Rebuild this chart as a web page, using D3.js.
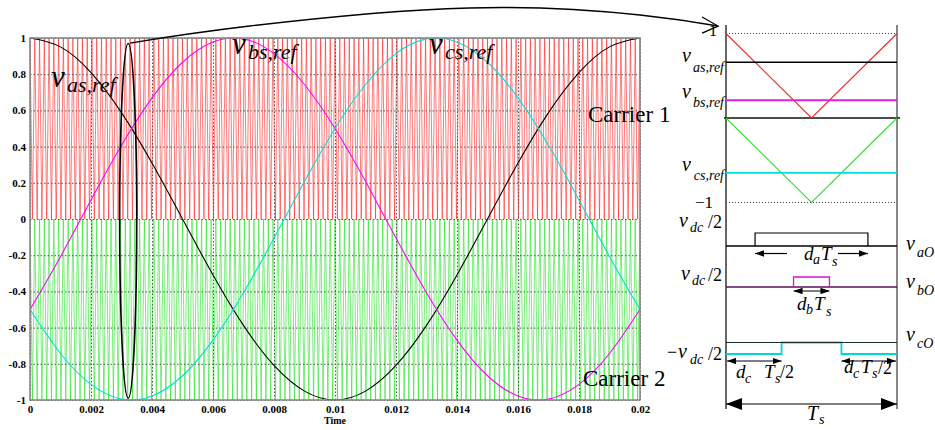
<!DOCTYPE html>
<html>
<head>
<meta charset="utf-8">
<script src="https://cdn.jsdelivr.net/npm/d3@7"></script>
<style>
  body { margin: 0; background: #fff; }
  text { font-family: "Liberation Serif", "Times New Roman", serif; }
</style>
</head>
<body>
<svg id="chart" width="935" height="430"></svg>
<script>
// ---- data ----------------------------------------------------------------
const timeTicks  = [0, 0.002, 0.004, 0.006, 0.008, 0.01, 0.012, 0.014, 0.016, 0.018, 0.02];
const valueTicks = [-1, -0.8, -0.6, -0.4, -0.2, 0, 0.2, 0.4, 0.6, 0.8, 1];

// reference voltages sampled every 1 ms over one 50 Hz cycle
const sampleTimes = [0, 0.001, 0.002, 0.003, 0.004, 0.005, 0.006, 0.007, 0.008, 0.009, 0.01,
                     0.011, 0.012, 0.013, 0.014, 0.015, 0.016, 0.017, 0.018, 0.019, 0.02];
const vasRef = [1, 0.951, 0.809, 0.588, 0.309, 0, -0.309, -0.588, -0.809, -0.951, -1,
                -0.951, -0.809, -0.588, -0.309, 0, 0.309, 0.588, 0.809, 0.951, 1];
const vbsRef = [-0.5, -0.208, 0.105, 0.407, 0.669, 0.866, 0.978, 0.995, 0.914, 0.743, 0.5,
                0.208, -0.105, -0.407, -0.669, -0.866, -0.978, -0.995, -0.914, -0.743, -0.5];
const vcsRef = [-0.5, -0.743, -0.914, -0.995, -0.978, -0.866, -0.669, -0.407, -0.105, 0.208, 0.5,
                0.743, 0.914, 0.995, 0.978, 0.866, 0.669, 0.407, 0.105, -0.208, -0.5];

// two level-shifted triangular carriers: [valley, peak]
const carrierCycles  = 128;
const carrier1Levels = [0, 1];
const carrier2Levels = [-1, 0];

// one switching period in detail: sampled references a, b, c
const periodRefs = [0.66, 0.21, -0.65];

// ---- left panel: carriers and references ----------------------------------
const svg = d3.select("#chart");
const x = d3.scaleLinear().domain([timeTicks[0], timeTicks[timeTicks.length - 1]]).range([30, 640]);
const y = d3.scaleLinear().domain([-1, 1]).range([400, 38]);

function carrierVertices(levels) {
  const half = (x.domain()[1] - x.domain()[0]) / carrierCycles / 2;
  return d3.range(2 * carrierCycles + 1).map(k => ({ t: k * half, v: levels[1 - (k % 2)] }));
}
const straight = d3.line().x(d => x(d.t)).y(d => y(d.v));

const plot = svg.append("g");
plot.append("path").datum(carrierVertices(carrier1Levels))
  .attr("d", straight).attr("fill", "none").attr("stroke", "#ff2020")
  .attr("stroke-width", 0.7).attr("stroke-opacity", 0.85);
plot.append("path").datum(carrierVertices(carrier2Levels))
  .attr("d", straight).attr("fill", "none").attr("stroke", "#20e020")
  .attr("stroke-width", 0.7).attr("stroke-opacity", 0.85);

// dotted grid
const gridX = svg.append("g").attr("transform", `translate(0,${y(-1)})`)
  .call(d3.axisBottom(x).tickValues(timeTicks).tickSize(-(y(-1) - y(1))).tickFormat(""));
const gridY = svg.append("g").attr("transform", `translate(${x(0)},0)`)
  .call(d3.axisLeft(y).tickValues(valueTicks).tickSize(-(x(0.02) - x(0))).tickFormat(""));
[gridX, gridY].forEach(g => {
  g.select(".domain").remove();
  g.selectAll("line").attr("stroke", "#555").attr("stroke-width", 1).attr("stroke-dasharray", "1.5,2");
});

// reference sinusoids
const smooth = d3.line().curve(d3.curveNatural).x(d => x(d[0])).y(d => y(d[1]));
[[vasRef, "#000"], [vbsRef, "#ff00ff"], [vcsRef, "#00dede"]].forEach(([vals, col]) => {
  svg.append("path").datum(d3.zip(sampleTimes, vals))
    .attr("d", smooth).attr("fill", "none").attr("stroke", col).attr("stroke-width", 1.1);
});

// frame
svg.append("rect").attr("x", x(0)).attr("y", y(1))
  .attr("width", x(0.02) - x(0)).attr("height", y(-1) - y(1))
  .attr("fill", "none").attr("stroke", "#8a8a8a").attr("stroke-width", 1.6);

// axes labels
const axY = svg.append("g").attr("transform", `translate(${x(0)},0)`)
  .call(d3.axisLeft(y).tickValues(valueTicks).tickSize(0).tickPadding(4).tickFormat(d => String(d)));
const axX = svg.append("g").attr("transform", `translate(0,${y(-1)})`)
  .call(d3.axisBottom(x).tickValues(timeTicks).tickSize(0).tickPadding(5).tickFormat(d => String(d)));
[axX, axY].forEach(g => {
  g.select(".domain").remove();
  g.selectAll("text").attr("font-family", "Liberation Serif").attr("font-weight", "bold")
    .attr("font-size", 11).attr("fill", "#000");
});
svg.append("text").attr("x", 335).attr("y", 424).attr("text-anchor", "middle")
  .attr("font-weight", "bold").attr("font-size", 10).text("Time");

// text helper: pieces placed individually
function put(px, py, str, size, opts = {}) {
  return svg.append("text").attr("x", px).attr("y", py)
    .attr("font-size", size)
    .attr("font-style", opts.roman ? "normal" : "italic")
    .attr("text-anchor", opts.anchor || "start")
    .attr("fill", "#000").text(str);
}

// reference labels
put(51, 87, "v", 31); put(67, 92, "as,ref", 22);
put(232, 54, "v", 31); put(248, 59, "bs,ref", 22);
put(429, 54, "v", 31); put(445, 59, "cs,ref", 22);
put(588, 122, "Carrier 1", 23, { roman: true });
put(583, 386, "Carrier 2", 23, { roman: true });

// sampling window around one switching period
svg.append("ellipse").attr("cx", x(0.00322)).attr("cy", y(-0.01))
  .attr("rx", x(0.00028) - x(0)).attr("ry", y(-0.98) - y(0))
  .attr("fill", "none").attr("stroke", "#000").attr("stroke-width", 1.6);

// call-out curve to the detail panel
const callout = [[0.00328, 0.972], [0.0072, 1.066], [0.0144, 1.166], [0.02, 1.127], [0.02256, 1.066]];
svg.append("path").datum(callout).attr("d", smooth)
  .attr("fill", "none").attr("stroke", "#000").attr("stroke-width", 1.4);
const tip = callout[callout.length - 1];
svg.append("path")
  .attr("d", d3.line()([[x(tip[0]) - 16, y(tip[1]) - 9], [x(tip[0]), y(tip[1])], [x(tip[0]) - 16, y(tip[1]) + 7]]))
  .attr("fill", "none").attr("stroke", "#000").attr("stroke-width", 1.3);

// ---- right panel: one switching period ------------------------------------
const px = d3.scaleLinear().domain([0, 1]).range([726, 897]);
const py = d3.scaleLinear().domain([-1, 1]).range([202.5, 33.5]);
const seg = d3.line();

function hline(yy, col, w, x0 = px(0), x1 = px(1), dash = null) {
  const l = svg.append("line").attr("x1", x0).attr("x2", x1).attr("y1", yy).attr("y2", yy)
    .attr("stroke", col).attr("stroke-width", w);
  if (dash) l.attr("stroke-dasharray", dash);
  return l;
}

// borders of the period
svg.append("line").attr("x1", px(0)).attr("x2", px(0)).attr("y1", 25).attr("y2", 409)
  .attr("stroke", "#000").attr("stroke-width", 1.2);
svg.append("line").attr("x1", px(1)).attr("x2", px(1)).attr("y1", 25).attr("y2", 409)
  .attr("stroke", "#555").attr("stroke-width", 1.4);

hline(py(1), "#444", 1, px(0), px(1), "1,2");
hline(py(-1), "#444", 1, px(0), px(1), "1,2");
hline(py(0), "#111", 1.6, px(0) - 2, px(1) + 3);

// carriers within the period
function periodCarrier(levels) {
  return [[px(0), py(levels[1])], [px(0.5), py(levels[0])], [px(1), py(levels[1])]];
}
svg.append("path").attr("d", seg(periodCarrier(carrier1Levels))).attr("fill", "none")
  .attr("stroke", "#ff2020").attr("stroke-width", 1.1);
svg.append("path").attr("d", seg(periodCarrier(carrier2Levels))).attr("fill", "none")
  .attr("stroke", "#30e030").attr("stroke-width", 1.1);

hline(py(periodRefs[0]), "#000", 1.4);
hline(py(periodRefs[1]), "#e020e0", 1.8);
hline(py(periodRefs[2]), "#00e0e0", 1.8);

// crossing instants of a reference with its carrier
function crossing(ref) {
  const lv = ref >= 0 ? carrier1Levels : carrier2Levels;
  const t1 = (lv[1] - ref) / (2 * (lv[1] - lv[0]));
  return [t1, 1 - t1];
}
const [a1, a2] = crossing(periodRefs[0]);
const [b1, b2] = crossing(periodRefs[1]);
const [c1, c2] = crossing(periodRefs[2]);

// phase-to-midpoint voltages
hline(246, "#000", 1.4);
svg.append("path").attr("d", seg([[px(a1), 246], [px(a1), 233], [px(a2), 233], [px(a2), 246]]))
  .attr("fill", "none").attr("stroke", "#000").attr("stroke-width", 1.2);

hline(287, "#5a105a", 1.6);
svg.append("path").attr("d", seg([[px(b1), 287], [px(b1), 277], [px(b2), 277], [px(b2), 287]]))
  .attr("fill", "none").attr("stroke", "#e010d0").attr("stroke-width", 1.3);

svg.append("path").attr("d", seg([[px(0), 354], [px(c1), 354], [px(c1), 342.5], [px(c2), 342.5], [px(c2), 354], [px(1), 354]]))
  .attr("fill", "none").attr("stroke", "#00d8d8").attr("stroke-width", 1.8);
hline(342.5, "#103030", 1.1);

// arrow heads
const defs = svg.append("defs");
function head(id, len, half) {
  defs.append("marker").attr("id", id).attr("viewBox", `0 ${-half} ${len} ${2 * half}`)
    .attr("refX", len).attr("refY", 0).attr("markerUnits", "userSpaceOnUse")
    .attr("markerWidth", len).attr("markerHeight", 2 * half).attr("orient", "auto-start-reverse")
    .append("path").attr("d", `M0,${-half}L${len},0L0,${half}Z`).attr("fill", "#000");
}
head("small", 9, 3.2);
head("big", 16, 6);
function arrow(x0, x1, yy, both, id = "small") {
  const l = svg.append("line").attr("x1", x0).attr("x2", x1).attr("y1", yy).attr("y2", yy)
    .attr("stroke", "#000").attr("stroke-width", 1.2).attr("marker-end", `url(#${id})`);
  if (both) l.attr("marker-start", `url(#${id})`);
}
arrow(787, px(a1), 253.5, false);
arrow(838, px(a2), 253.5, false);
arrow(px(b1), px(b2), 291, true);
arrow(px(0) + 1, px(c1), 361, true);
arrow(px(c2), px(1) - 1, 361, true);
arrow(px(0), px(1), 404, true, "big");

// right-panel labels
put(717, 36, "1", 16, { roman: true, anchor: "end" });
put(713, 208, "\u22121", 17, { roman: true, anchor: "end" });
put(682, 62, "v", 20); put(724, 72, "as,ref", 14, { anchor: "end" });
put(682, 98, "v", 20); put(724, 107, "bs,ref", 14, { anchor: "end" });
put(682, 171, "v", 20); put(724, 180, "cs,ref", 14, { anchor: "end" });

put(679, 227, "v", 20); put(690, 232, "dc", 14); put(722, 228, "/2", 18, { roman: true, anchor: "end" });
put(681, 280, "v", 20); put(692, 285, "dc", 14); put(722, 281, "/2", 18, { roman: true, anchor: "end" });
put(667, 358, "\u2212", 18, { roman: true }); put(678, 358, "v", 20); put(690, 364, "dc", 14);
put(722, 360, "/2", 18, { roman: true, anchor: "end" });

put(906, 250, "v", 20); put(917, 257, "aO", 14);
put(906, 288, "v", 20); put(917, 295, "bO", 14);
put(906, 341, "v", 20); put(917, 348, "cO", 14);

put(804, 260, "d", 19); put(813, 264, "a", 14); put(821, 260, "T", 19); put(832, 266, "s", 14);
put(797, 310, "d", 19); put(806, 314, "b", 14); put(814, 310, "T", 19); put(826, 316, "s", 14);
put(736, 378, "d", 19); put(745, 383, "c", 14); put(764, 378, "T", 19); put(775, 383, "s", 14);
put(780, 378, "/2", 18, { roman: true });
put(844, 373, "d", 19); put(853, 378, "c", 14); put(861, 373, "T", 19); put(872, 378, "s", 14);
put(878, 374, "/2", 18, { roman: true });
put(807, 420, "T", 20); put(819, 424, "s", 14);
</script>
</body>
</html>
